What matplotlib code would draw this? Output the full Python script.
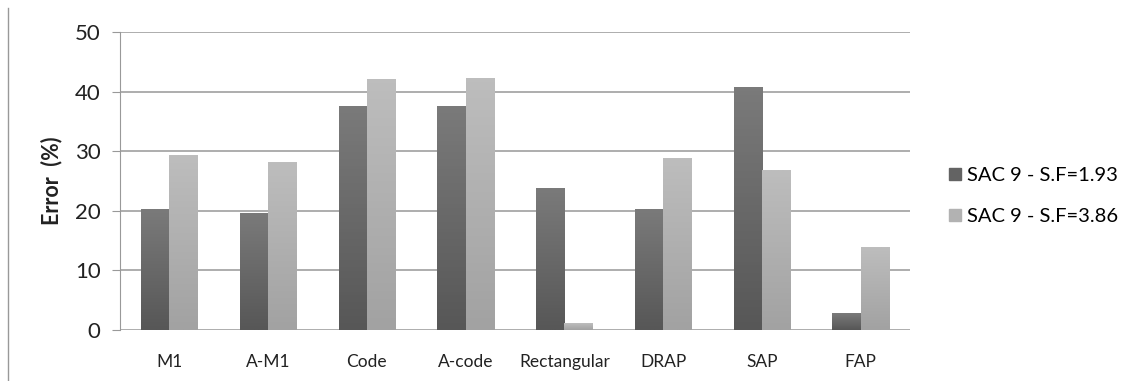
import matplotlib
matplotlib.use("Agg")
import matplotlib.pyplot as plt
import numpy as np
from matplotlib.colors import LinearSegmentedColormap
from matplotlib.lines import Line2D

categories = ["M1", "A-M1", "Code", "A-code", "Rectangular", "DRAP", "SAP", "FAP"]
series_names = ["SAC 9 - S.F=1.93", "SAC 9 - S.F=3.86"]
sf193 = [20.3, 19.5, 37.5, 37.5, 23.8, 20.3, 40.7, 2.7]
sf386 = [29.2, 28.1, 42.1, 42.2, 1.1, 28.7, 26.7, 13.9]
yticks = [0, 10, 20, 30, 40, 50]

plt.rcParams['font.family'] = ['Lato', 'DejaVu Sans']

fig = plt.figure(figsize=(11.37, 3.81), dpi=100)
ax = fig.add_axes([120/1137, 1 - 330/381, 790/1137, 298/381])

x = np.arange(len(categories))
w = 0.285
cmaps = [LinearSegmentedColormap.from_list("d", ["#575757", "#7a7a7a"]),
         LinearSegmentedColormap.from_list("l", ["#a2a2a2", "#bdbdbd"])]
solid = ["#636363", "#b2b2b2"]
grad = np.linspace(0, 1, 64).reshape(-1, 1)
for i, vals in enumerate([sf193, sf386]):
    bars = ax.bar(x + (i - 0.5) * w, vals, width=w, color=solid[i], zorder=2)
    for b in bars:
        x0, y0 = b.get_x(), b.get_y()
        ax.imshow(grad, cmap=cmaps[i], aspect='auto', origin='lower',
                  extent=[x0, x0 + b.get_width(), y0, y0 + b.get_height()], zorder=3)

ax.set_xlim(-0.5, len(categories) - 0.5)
ax.set_ylim(0, 50)
ax.set_yticks(yticks)
ax.set_xticks(x)
ax.set_xticklabels(categories, fontsize=12.5, color="#222222")
ax.tick_params(axis='y', labelsize=16, length=6, color="#999999", labelcolor="#222222", pad=8)
ax.tick_params(axis='x', length=0, pad=17)
ax.grid(axis='y', color="#a0a0a0", linewidth=1.2, zorder=0)
for s in ["top", "right", "bottom"]:
    ax.spines[s].set_visible(False)
ax.spines["left"].set_color("#999999")
ax.set_ylabel("Error  (%)", fontsize=15.5, fontweight='bold', labelpad=9, color="#222222")

handles = [Line2D([], [], marker='s', linestyle='none', markersize=9,
                  markerfacecolor=c, markeredgecolor=c) for c in solid]
fig.legend(handles, series_names, loc='center left', bbox_to_anchor=(925/1137, 1 - 196/381),
           frameon=False, fontsize=14.5, handletextpad=0.0, labelspacing=1.15,
           handlelength=1.2)

fig.add_artist(Line2D([8/1137, 8/1137], [0, 1 - 8/381], color="#999999", linewidth=1))

fig.savefig("out.png", dpi=100)
